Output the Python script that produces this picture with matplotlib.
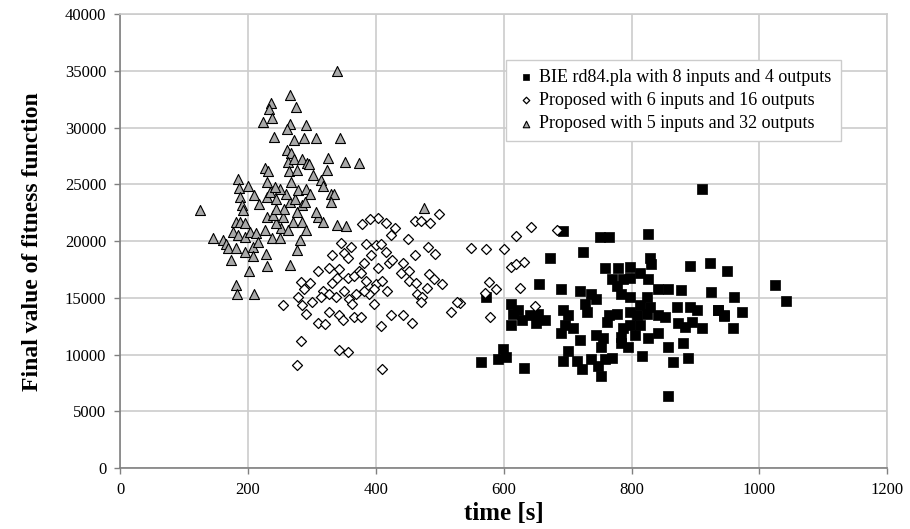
import matplotlib
matplotlib.use('Agg')
import matplotlib.pyplot as plt

plt.rcParams['font.family'] = ['Liberation Serif', 'DejaVu Serif']

# BIE rd84.pla, 8 inputs / 4 outputs  (time [s], fitness)
bie_points = [
    (693, 20930), (750, 20350), (764, 20350), (826, 20640), (724, 19070), (672, 18490),
    (829, 18550), (656, 16220), (573, 15120), (622, 13950), (615, 13550), (628, 13080),
    (612, 12590), (641, 13460), (654, 13600), (664, 13080), (651, 12790), (612, 14480),
    (599, 10470), (591, 9590), (604, 9830), (565, 9390), (632, 8810), (857, 6400),
    (911, 24590), (1024, 16160), (1041, 14770), (961, 15120), (973, 13720), (959, 12380),
    (936, 13900), (945, 13380),
    (758, 17600), (779, 17660), (797, 17720), (813, 17230), (826, 16650), (831, 17950),
    (769, 16650), (787, 16650), (797, 16790), (891, 17800), (923, 18090), (949, 17370),
    (690, 15780), (719, 15640), (737, 15350), (745, 14910), (727, 14480), (777, 16070),
    (784, 15350), (797, 15060), (842, 15780), (857, 15780), (878, 15720), (925, 15490),
    (824, 15060), (829, 14190), (813, 14340), (871, 14190), (891, 14190), (902, 13960),
    (936, 13900), (944, 13470), (693, 13900), (701, 13470), (730, 13760), (764, 13470),
    (777, 13610), (761, 12890), (797, 13760), (808, 13470), (824, 13610), (842, 13470),
    (852, 13320), (873, 12750), (884, 12460), (894, 12890), (910, 12310), (696, 12600),
    (709, 12310), (690, 11880), (745, 11730), (756, 11450), (787, 12310), (797, 12600),
    (813, 12600), (784, 11590), (805, 11730), (826, 11450), (842, 11880), (857, 10720),
    (881, 11070), (719, 11300), (753, 10720), (784, 11010), (795, 10720), (701, 10290),
    (816, 9910), (737, 9620), (758, 9620), (769, 9710), (693, 9420), (714, 9420),
    (748, 8990), (722, 8700), (753, 8120), (865, 9340), (889, 9710),
]

# Proposed, 6 inputs / 16 outputs
p16_points = [
    (404, 22090), (391, 21970), (379, 21510), (416, 21600), (430, 21160), (424, 20580),
    (450, 20170), (462, 21740), (471, 21800), (484, 21570), (499, 22380), (345, 19820),
    (361, 19470), (384, 19760), (401, 19650), (408, 19760), (482, 19470), (255, 14410),
    (532, 14520), (549, 19410), (573, 19300), (601, 19300), (620, 20460), (611, 17720),
    (619, 17950), (577, 16440), (588, 15800), (571, 15450), (579, 13360), (632, 18140),
    (642, 21220), (684, 20990), (625, 15870), (649, 14330),
    (331, 18810), (350, 18960), (357, 18530), (392, 18810), (416, 19050), (462, 18760),
    (493, 18870), (309, 17370), (327, 17660), (343, 17510), (374, 17370), (382, 18090),
    (403, 17660), (420, 18090), (426, 18380), (442, 18090), (439, 17220), (452, 17370),
    (483, 17080), (491, 16650), (504, 16210), (527, 14620), (517, 13760), (283, 16450),
    (297, 16360), (288, 15780), (318, 15640), (332, 16360), (340, 16790), (356, 16790),
    (366, 16940), (377, 17220), (384, 16500), (400, 16210), (410, 16500), (418, 15640),
    (397, 15780), (390, 15350), (381, 15640), (369, 15350), (358, 14910), (350, 15640),
    (337, 15060), (327, 15350), (314, 15060), (279, 15060), (284, 14340), (290, 13610),
    (300, 14620), (327, 13760), (343, 13470), (348, 13030), (366, 13320), (377, 13320),
    (363, 14480), (397, 14480), (309, 12750), (321, 12690), (408, 12510), (423, 13470),
    (442, 13470), (457, 12800), (452, 16500), (463, 16360), (465, 15350), (473, 15060),
    (470, 14620), (480, 15920), (283, 11210), (343, 10430), (356, 10200), (276, 9130),
    (410, 8700),
]

# Proposed, 5 inputs / 32 outputs
p32_points = [
    (340, 35000), (266, 32900), (236, 32150), (233, 31630), (275, 31800), (237, 30840),
    (223, 30470), (266, 30350), (261, 29880), (290, 30230), (240, 29190), (272, 28900),
    (288, 29070), (306, 29100), (344, 29070), (261, 28080), (267, 27790), (262, 26980),
    (272, 27210), (285, 27270), (293, 26920), (325, 27350), (352, 26980), (373, 26860),
    (227, 26450), (232, 26160), (264, 26160), (276, 26280), (295, 26770), (302, 25870),
    (323, 26280), (314, 25410), (330, 24130), (335, 24130), (330, 23490), (339, 21450),
    (353, 21340), (476, 22970),
    (125, 22730), (145, 20310), (161, 20110), (165, 19730), (169, 19380), (174, 18370),
    (182, 19380), (181, 16120), (183, 15310), (210, 15370), (201, 17350), (184, 25440),
    (186, 24680), (188, 23900), (190, 23170), (192, 22730), (200, 24910), (182, 21710),
    (187, 21710), (195, 21570), (177, 20840), (184, 20550), (195, 20400), (203, 20840),
    (213, 20700), (208, 19530), (216, 19910), (195, 19090), (208, 18660), (228, 18860),
    (230, 17780), (265, 17930), (276, 19240), (281, 20110), (210, 24040), (218, 23310),
    (229, 23890), (229, 25200), (234, 24330), (229, 22150), (226, 20980), (237, 20260),
    (250, 20260), (252, 21130), (244, 21570), (255, 22150), (239, 22290), (257, 22880),
    (265, 23460), (273, 23750), (260, 24190), (250, 24620), (242, 24770), (268, 25200),
    (278, 24480), (284, 23170), (276, 22580), (270, 21710), (284, 21710), (291, 20980),
    (310, 22150), (317, 21710), (307, 22580), (317, 24910), (291, 24620), (297, 24190),
    (289, 23460), (244, 23750), (244, 22880), (263, 20980),
]

labels = [
    'BIE rd84.pla with 8 inputs and 4 outputs',
    'Proposed with 6 inputs and 16 outputs',
    'Proposed with 5 inputs and 32 outputs',
]
x_ticks = [0, 200, 400, 600, 800, 1000, 1200]
y_ticks = [0, 5000, 10000, 15000, 20000, 25000, 30000, 35000, 40000]

fig = plt.figure(figsize=(9.1, 5.29), dpi=100)
ax = fig.add_axes([0.132, 0.115, 0.843, 0.858])

bx, by = zip(*bie_points)
dx, dy = zip(*p16_points)
tx, ty = zip(*p32_points)

ax.scatter(bx, by, s=52, marker='s', c='black', edgecolors='black',
           linewidths=0.5, label=labels[0], zorder=3)
ax.scatter(dx, dy, s=26, marker='D', c='white', edgecolors='black',
           linewidths=0.9, label=labels[1], zorder=4)
ax.scatter(tx, ty, s=52, marker='^', c='#a9a9a9', edgecolors='black',
           linewidths=0.8, label=labels[2], zorder=5)

ax.set_xlim(0, 1200)
ax.set_ylim(0, 40000)
ax.set_xticks(x_ticks)
ax.set_yticks(y_ticks)
ax.tick_params(axis='both', direction='out', length=4, width=1,
               color='#808080', labelsize=12, pad=6)

ax.grid(True, color='#cccccc', linewidth=1.2)
ax.set_axisbelow(True)
for side in ['left', 'bottom']:
    ax.spines[side].set_color('#808080')
    ax.spines[side].set_linewidth(1.2)
for side in ['top', 'right']:
    ax.spines[side].set_color('#cccccc')
    ax.spines[side].set_linewidth(1.2)

ax.set_xlabel('time [s]', fontsize=18, fontweight='bold', labelpad=3)
ax.set_ylabel('Final value of fitness function', fontsize=17,
              fontweight='bold', labelpad=16)

leg = ax.legend(loc='upper right', bbox_to_anchor=(0.951, 0.92),
                fontsize=13, markerscale=0.65, handletextpad=0.15,
                handlelength=1.2, borderpad=0.5, labelspacing=0.35,
                fancybox=False, framealpha=1, edgecolor='#cccccc')
leg.get_frame().set_linewidth(1.0)

fig.savefig('out.png', dpi=100)
